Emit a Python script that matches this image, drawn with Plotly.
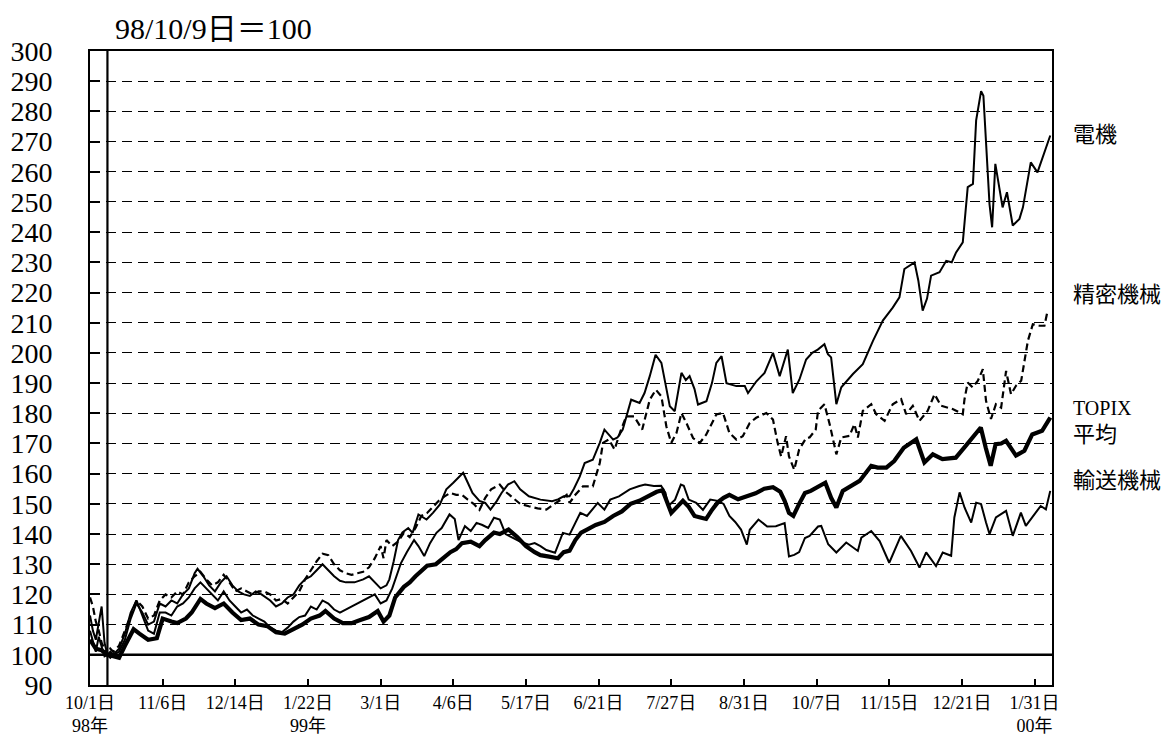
import plotly.graph_objects as go

# trading-day index (0 = 98/10/1) and index value (98/10/9 = 100)
DENKI = [  # 電機
    (0, 113), (1, 108), (2, 105), (3, 110), (4, 116), (5, 104), (6, 100), (7, 101), (8, 100),
    (10, 101), (12, 105), (14, 112), (16, 117), (18, 114), (20, 110), (22, 111), (24, 117),
    (26, 116), (28, 118), (30, 117), (32, 120), (34, 122), (36, 127), (37, 128.5), (39, 126),
    (41, 123), (43, 121), (45, 124), (47, 126), (49, 123), (51, 121), (53, 120), (55, 119.5),
    (57, 121), (59, 120), (62, 118), (64, 116), (66, 117), (68, 119), (70, 120), (72, 123),
    (74, 125), (76, 126), (78, 128), (80, 130), (82, 128), (84, 126), (86, 124.5), (88, 124),
    (91, 124), (94, 125), (96, 126), (98, 124), (100, 122), (102, 123), (103, 125), (104.5, 131),
    (106, 138), (107.5, 140.5), (109.5, 142), (111, 140.4), (113, 146.5), (115.8, 144.8),
    (118, 147), (120.4, 149.8), (122.6, 154.8), (125, 157), (127, 159), (128.4, 160.3),
    (130, 157), (131.6, 153.6), (134, 151), (136, 150.3), (137.8, 148.1), (140, 151),
    (141.6, 153.6), (143.8, 156.4), (146, 157.5), (148, 154.8), (151, 152.5), (155, 151.4),
    (159, 150.9), (161, 151.5), (163, 152.5), (165, 152.5), (166.5, 155), (168.5, 159),
    (170.2, 163.5), (173, 164.6), (175.4, 170.2), (177, 174.6), (180, 171.3), (181.5, 172),
    (183.3, 174.6), (185, 180), (186.2, 184.5), (189.1, 183.4), (190.8, 186.7), (192.6, 192.3),
    (194.6, 199.4), (196.6, 196.7), (198, 190), (199.5, 182.3), (201.2, 180.7), (202.5, 188),
    (203.5, 193.4), (205, 191), (206.3, 192.3), (208, 188), (209.2, 182.9), (212.1, 184),
    (214, 190), (215.5, 196.7), (217.3, 198.9), (219, 190), (222.4, 189), (225.3, 189),
    (226.4, 186.7), (229.3, 190.6), (232.1, 193.4), (235, 200), (237.3, 192.3), (240.1, 201.1),
    (241.8, 186.7), (244.1, 191.2), (246.4, 197.8), (248.5, 200), (250.4, 201.1),
    (252.7, 202.9), (253.9, 199.6), (255, 198.5), (256.8, 183), (258.5, 188.6), (262.5, 193),
    (265.9, 196.3), (269.4, 204), (272.8, 210.7), (276.2, 215), (278.5, 218.4), (280.2, 227.8),
    (283.7, 230), (285, 224), (286.5, 214), (288, 218), (289.4, 225.6), (292.3, 226.7),
    (294.6, 230.5), (296.5, 230), (298, 233.3), (300.3, 236.6), (302, 254.9), (303.8, 256),
    (304.9, 277), (306.6, 286.7), (307.4, 285.2), (309.5, 249.3), (310.4, 241.6),
    (311.5, 262.6), (314, 248.2), (315.5, 253.2), (317.5, 242.2), (319.8, 244.4), (321, 248.2),
    (323.7, 263.1), (326, 259.8), (330.4, 272),
]

SEIMITSU = [  # 精密機械
    (0, 119), (1, 116), (2, 111), (3, 108), (4, 104), (5, 102), (6, 100), (7, 102), (8, 101),
    (10, 103), (12, 108), (14, 113), (16, 118), (18, 116), (20, 112), (22, 113), (24, 118),
    (26, 120), (28, 119), (30, 121), (32, 120), (34, 124), (36, 126), (38, 127.5), (40, 125),
    (42, 123), (44, 124), (46, 126.5), (48, 124), (50, 121), (52, 122), (54, 121), (56, 120),
    (58, 121), (60, 121), (62, 120), (64, 118), (66, 118.5), (68, 117), (70, 119), (72, 121),
    (74, 125), (76, 128), (78, 131), (80, 133.5), (82, 133), (84, 130), (86, 128), (88, 127),
    (90, 126.5), (92, 127), (94, 127.5), (96, 129), (98, 132), (100, 136), (101, 132),
    (102, 138), (104, 136), (106, 137.5), (108, 140.4), (110, 139), (112, 142), (114, 146),
    (116, 147), (118, 149), (120, 151), (122, 152.5), (124, 153.6), (126, 153), (128, 153),
    (130, 151.4), (132, 150), (134, 148), (136, 152), (138, 154.8), (141, 156.4), (143, 154),
    (145, 152.5), (148, 150), (151, 149.2), (154, 148.5), (157, 148.1), (160, 150),
    (162, 151.4), (164, 153), (165, 150.3), (167, 153), (169.6, 155.8), (173, 155.8),
    (175.4, 163.5), (176.5, 170.2), (178.5, 171.3), (180.5, 168), (182.5, 174), (184.5, 179),
    (187.2, 179), (190, 174.6), (192.6, 184.5), (194.7, 187.8), (196.6, 185.6), (198.3, 175.7),
    (200, 170.2), (201.8, 173.5), (203.5, 180.1), (205.2, 176.8), (207.5, 171.8),
    (209.8, 170.2), (212, 172.9), (215.5, 179.6), (217.8, 180.1), (220, 173.5), (222.4, 171.3),
    (224.6, 172.4), (227, 176.8), (229.2, 178.5), (232.7, 180.1), (235, 177.9), (236.6, 170.2),
    (237.8, 165.7), (239.5, 172.4), (240.5, 165.7), (242.3, 161.3), (244, 168), (246.4, 171.8),
    (247.6, 172), (249.7, 174.6), (250.5, 180.8), (252.7, 183), (254.5, 176.4), (255.6, 172),
    (256.8, 166.4), (258.5, 172), (261.3, 172.5), (263, 176.4), (264.2, 172), (265.9, 180.8),
    (268.8, 183), (270.5, 179.7), (273.4, 177.5), (276.2, 183), (279.1, 184.7), (280.8, 179.7),
    (283.1, 182.5), (285.4, 177.5), (288.2, 180.8), (290.6, 186.3), (292.8, 182.5),
    (296.8, 181.4), (300.3, 179.7), (300.9, 184.7), (302, 190.2), (303.7, 188.6),
    (305.5, 190.8), (307.2, 194.6), (308.3, 184.1), (310, 178.1), (311.7, 183), (313.5, 181.9),
    (315.2, 194), (316.9, 186.3), (318.6, 189.1), (320.4, 190.8), (321.5, 197.4),
    (322.7, 204), (324.4, 209.5), (326.7, 209), (328.4, 209), (329.5, 214),
]

TOPIX = [  # TOPIX平均
    (0, 105), (2, 102), (4, 101.5), (6, 100), (8, 99.5), (10, 99), (12, 103), (15, 108.5),
    (17, 107), (20, 105), (23, 105.5), (25, 112), (28, 111), (30, 110.5), (33, 112), (35, 114),
    (38, 118.5), (40, 117), (43, 115.5), (46, 117), (49, 114), (52, 111.5), (55, 112),
    (58, 110), (61, 109.5), (64, 107.5), (67, 107), (70, 108.5), (73, 110), (76, 112),
    (79, 113), (81, 114.5), (84, 112), (87, 110.5), (90, 110.5), (93, 111.5), (96, 112.5),
    (99, 114.5), (101, 111), (103, 113), (105, 119), (108, 122.5), (110, 124), (112, 126),
    (114, 128), (116, 129.5), (119, 130), (121, 131.5), (124, 134), (126, 135), (128, 137),
    (131, 137.5), (134, 136), (136, 138), (139, 140.5), (141, 140), (144, 141.5), (147, 139),
    (150, 136), (153, 134), (155, 133), (158, 132.5), (161, 132), (163, 134), (165, 134.5),
    (167, 138), (169, 140.5), (171, 141.5), (174, 143), (177, 144), (180, 146), (183, 147.5),
    (186, 150), (189, 151), (192, 152.5), (195, 154), (197, 154.5), (199, 150), (200, 147),
    (202, 149), (204, 151), (206, 149), (208, 146), (210, 145.5), (212, 145), (214, 148),
    (216, 150.5), (218, 152), (220, 153), (223, 151.5), (226, 152.5), (229, 153.5),
    (232, 155), (235, 155.5), (237.5, 154), (239, 151), (240.5, 147), (242, 146), (244, 150),
    (246, 153.6), (248, 154.3), (251, 156), (253, 157), (255, 152), (256.8, 148.8),
    (259, 154.3), (262, 156), (264.8, 157.6), (268.8, 162.6), (271, 162), (274, 162),
    (276.7, 164.2), (280, 168.6), (282, 170), (284.3, 171.4), (287.1, 163.7), (290, 166.4),
    (293.3, 164.8), (296, 165), (297.9, 165.3), (301.3, 169.2), (303.6, 172), (306.5, 175.3),
    (308.2, 168.6), (309.9, 162.6), (311.6, 169.8), (313.5, 170), (315.2, 170.9), (318.6, 166),
    (321.5, 167.6), (324.2, 173), (327.6, 174.2), (330.4, 178.6),
]

YUSO = [  # 輸送機械
    (0, 108), (1, 104), (2, 101), (3, 106), (4, 103), (5, 99.5), (6, 100), (7, 99), (8, 100),
    (10, 102), (12, 107), (14, 114), (16, 118), (18, 113), (20, 108), (22, 107), (24, 114),
    (26, 114), (28, 113), (30, 116), (32, 117), (34, 119), (36, 122), (38, 124), (40, 122),
    (42, 120), (44, 118), (46, 121), (48, 118), (50, 116), (52, 114), (54, 115), (56, 113),
    (58, 112), (60, 111), (62, 109), (64, 108), (66, 107.5), (68, 109), (70, 111), (72, 112.5),
    (74, 113), (76, 116), (78, 115), (80, 118), (82, 117), (84, 115), (86, 114), (88, 115),
    (90, 116), (92, 117), (94, 118), (96, 119), (98, 120), (100, 117), (102, 118), (104, 122),
    (107, 130.4), (109, 134), (111.5, 138), (113, 136), (115, 132.7), (117, 137),
    (119.2, 140.4), (121, 142), (123.7, 146.5), (125.5, 145), (126.8, 138), (129, 142.6),
    (131, 141), (133, 143.7), (135, 143), (137, 142), (139, 145.4), (141, 144.8), (143, 140),
    (145, 139), (148, 137.5), (151, 136.5), (153, 137), (155, 136), (157, 134.7), (160, 133.8),
    (162.7, 140.4), (165, 139.8), (168.7, 147), (171, 146), (174.7, 150.3), (177, 148.1),
    (179, 151.4), (182, 152.5), (185.7, 154.8), (189, 155.9), (191, 156.4), (194, 155.9),
    (196.5, 156), (198, 153.6), (198.9, 149.2), (201.3, 151.4), (203.3, 156.4), (204.3, 156),
    (206, 151.4), (208.6, 150.3), (210.9, 148), (213.4, 151.4), (216, 151), (218, 150),
    (220, 146), (222, 144), (224, 141.5), (226, 136.5), (227, 141.4), (230, 144.8),
    (233, 142.5), (236, 142.6), (239, 143.6), (240.5, 132.6), (242.3, 133.1), (244, 134),
    (246, 138.7), (247.6, 139.4), (250.5, 142.5), (251.6, 142.7), (254, 136.6), (256.8, 133.9),
    (260.2, 137.2), (264.2, 134.4), (265.4, 138.8), (268.8, 141), (271.7, 137.7), (275, 130.5),
    (279, 139.4), (282.5, 134.4), (285.4, 128.9), (287.7, 133.9), (291.1, 129.4),
    (293.4, 133.9), (296.3, 132.8), (297.4, 145.5), (299.2, 153.8), (300.9, 148.8),
    (303.2, 143.8), (304.9, 150.4), (306.6, 149.9), (308.3, 143.8), (309.5, 140),
    (311.7, 145.5), (315.2, 147.7), (317.5, 139.4), (320.3, 147.1), (322, 142.7),
    (324.9, 146.6), (327.1, 149.3), (328.9, 148.2), (330.4, 154.3),
]

TICK_DAYS = [0, 25, 50, 75, 100, 125, 150, 175, 200, 225, 250, 275, 300, 325]
TICK_TEXT = ["10/1日<br>98年", "11/6日", "12/14日", "1/22日<br>99年", "3/1日", "4/6日",
             "5/17日", "6/21日", "7/27日", "8/31日", "10/7日", "11/15日", "12/21日",
             "1/31日<br>00年"]
BASE_DAY = 6  # 98/10/9
BASE_VALUE = 100

# right-hand labels, the value level they sit at, and font size
LABELS = [("電機", 272.4, 22), ("精密機械", 219.4, 22), ("TOPIX", 181.8, 20),
          ("平均", 173.0, 22), ("輸送機械", 157.8, 22)]

SERIF = "Liberation Serif, Noto Sans CJK JP, serif"

fig = go.Figure()


def add_series(pairs, width, dash="solid"):
    xs, ys = zip(*pairs)
    fig.add_trace(go.Scatter(
        x=xs, y=ys, mode="lines",
        line=dict(color="black", width=width, dash=dash),
        showlegend=False, hoverinfo="skip",
    ))


add_series(YUSO, 2)
add_series(SEIMITSU, 2.2, dash="7px,4px")
add_series(DENKI, 2)
add_series(TOPIX, 4.2)

# base lines: 100 level and the base date
fig.add_hline(y=BASE_VALUE, line_color="black", line_width=2.5)
fig.add_vline(x=BASE_DAY, line_color="black", line_width=2.2)

fig.add_annotation(
    text="98/10/9日＝100", xref="paper", yref="paper", x=0.024, y=1.036,
    xanchor="left", yanchor="middle", showarrow=False,
    font=dict(family=SERIF, size=30, color="black"),
)
for text, lvl, size in LABELS:
    fig.add_annotation(
        text=text, xref="paper", yref="y", x=1.02, y=lvl,
        xanchor="left", yanchor="middle", showarrow=False,
        font=dict(family=SERIF, size=size, color="black"),
    )

# the page body adds an 8px offset, so the figure is 8px smaller than the window
fig.update_layout(
    width=1165, height=735,
    margin=dict(l=82, r=121, t=43, b=58),
    paper_bgcolor="white", plot_bgcolor="white",
    font=dict(family=SERIF, color="black"),
    xaxis=dict(
        range=[0, 331], tickmode="array", tickvals=TICK_DAYS, ticktext=TICK_TEXT,
        ticks="inside", ticklen=6, tickwidth=1.5, tickcolor="black",
        showgrid=False, zeroline=False, automargin=False,
        showline=True, linecolor="black", linewidth=2, mirror=True,
        tickfont=dict(family=SERIF, size=18, color="black"),
    ),
    yaxis=dict(
        range=[90, 300], dtick=10, tick0=90,
        ticks="inside", ticklen=10, tickwidth=2, tickcolor="black",
        showgrid=True, gridcolor="black", gridwidth=1, griddash="10px,6px",
        zeroline=False, automargin=False,
        showline=True, linecolor="black", linewidth=2, mirror=True,
        tickfont=dict(family=SERIF, size=28, color="black"),
        ticklabelstandoff=30,
    ),
)

fig.write_html("out.html")
